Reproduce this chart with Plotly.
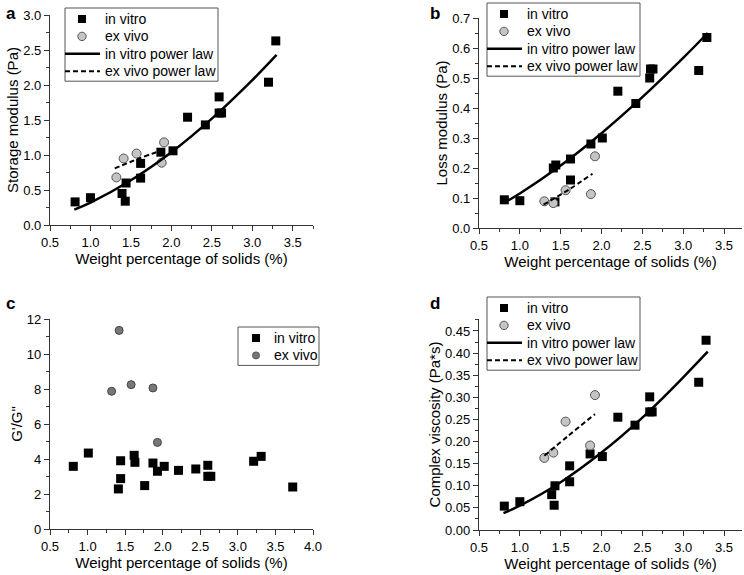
import plotly.graph_objects as go

FONT = "Arial, Liberation Sans, sans-serif"

# panel a: storage modulus (Pa)
a_vitro_x = [0.81, 1.00, 1.39, 1.43, 1.44, 1.62, 1.62, 1.87, 2.02, 2.20, 2.42, 2.59, 2.59, 2.62, 3.20, 3.29]
a_vitro_y = [0.33, 0.39, 0.45, 0.34, 0.60, 0.88, 0.67, 1.04, 1.06, 1.54, 1.43, 1.83, 1.60, 1.60, 2.04, 2.63]
a_vivo_x = [1.32, 1.41, 1.57, 1.88, 1.91]
a_vivo_y = [0.68, 0.95, 1.02, 0.89, 1.18]
a_fit_vitro_x = [0.80, 1.00, 1.50, 2.00, 2.50, 3.00, 3.30]
a_fit_vitro_y = [0.22, 0.32, 0.64, 1.04, 1.52, 2.07, 2.43]
a_fit_vivo_x = [1.30, 1.60, 1.89]
a_fit_vivo_y = [0.81, 0.95, 1.07]

# panel b: loss modulus (Pa)
b_vitro_x = [0.81, 1.00, 1.41, 1.43, 1.44, 1.62, 1.62, 1.87, 2.01, 2.20, 2.42, 2.59, 2.60, 2.63, 3.19, 3.29]
b_vitro_y = [0.094, 0.091, 0.200, 0.087, 0.210, 0.230, 0.160, 0.280, 0.300, 0.456, 0.415, 0.500, 0.530, 0.530, 0.525, 0.635]
b_vivo_x = [1.30, 1.41, 1.56, 1.87, 1.92]
b_vivo_y = [0.089, 0.083, 0.126, 0.113, 0.239]
b_fit_vitro_x = [0.80, 1.00, 1.50, 2.00, 2.50, 3.00, 3.30]
b_fit_vitro_y = [0.083, 0.115, 0.208, 0.316, 0.436, 0.567, 0.650]
b_fit_vivo_x = [1.29, 1.60, 1.89]
b_fit_vivo_y = [0.078, 0.128, 0.181]

# panel c: G'/G"
c_vitro_x = [0.81, 1.01, 1.41, 1.44, 1.44, 1.62, 1.63, 1.76, 1.87, 1.93, 2.02, 2.21, 2.44, 2.60, 2.60, 2.64, 3.21, 3.31, 3.73]
c_vitro_y = [3.58, 4.34, 2.29, 3.90, 2.88, 4.21, 3.81, 2.48, 3.77, 3.30, 3.58, 3.35, 3.43, 3.64, 3.01, 3.01, 3.87, 4.15, 2.40]
c_vivo_x = [1.32, 1.42, 1.58, 1.87, 1.93]
c_vivo_y = [7.87, 11.35, 8.25, 8.06, 4.95]

# panel d: complex viscosity (Pa*s)
d_vitro_x = [0.81, 1.00, 1.39, 1.42, 1.43, 1.61, 1.61, 1.86, 2.01, 2.20, 2.41, 2.59, 2.59, 2.62, 3.19, 3.28]
d_vitro_y = [0.054, 0.064, 0.080, 0.056, 0.100, 0.145, 0.109, 0.172, 0.166, 0.255, 0.237, 0.301, 0.267, 0.267, 0.334, 0.429]
d_vivo_x = [1.30, 1.41, 1.56, 1.86, 1.92]
d_vivo_y = [0.163, 0.175, 0.245, 0.191, 0.305]
d_fit_vitro_x = [0.80, 1.00, 1.50, 2.00, 2.50, 3.00, 3.30]
d_fit_vitro_y = [0.038, 0.055, 0.108, 0.175, 0.254, 0.345, 0.403]
d_fit_vivo_x = [1.30, 1.60, 1.92]
d_fit_vivo_y = [0.168, 0.214, 0.262]

legend_full = ["in vitro", "ex vivo", "in vitro power law", "ex vivo power law"]
legend_short = ["in vitro", "ex vivo"]

W, H = 744, 575
VIVO_LIGHT = "#c4c4c4"
VIVO_DARK = "#777777"


def px_x(a, b):
    return [a / W, b / W]


def px_y(bottom, top):
    return [(H - bottom) / H, (H - top) / H]


fig = go.Figure()


def add_panel(n, vx, vy, ex, ey, fits, vivo_color, vivo_line, vivo_size):
    xa = "x" if n == 1 else f"x{n}"
    ya = "y" if n == 1 else f"y{n}"
    fig.add_trace(go.Scatter(
        x=vx, y=vy, mode="markers", name="in vitro", xaxis=xa, yaxis=ya,
        marker=dict(symbol="square", size=9, color="black"), cliponaxis=False))
    fig.add_trace(go.Scatter(
        x=ex, y=ey, mode="markers", name="ex vivo", xaxis=xa, yaxis=ya,
        marker=dict(symbol="circle", size=vivo_size, color=vivo_color,
                    line=dict(color=vivo_line, width=1)), cliponaxis=False))
    if fits:
        fx, fy, gx, gy = fits
        fig.add_trace(go.Scatter(
            x=fx, y=fy, mode="lines", name="in vitro power law", xaxis=xa, yaxis=ya,
            line=dict(color="black", width=2.5, shape="spline")))
        fig.add_trace(go.Scatter(
            x=gx, y=gy, mode="lines", name="ex vivo power law", xaxis=xa, yaxis=ya,
            line=dict(color="black", width=2, dash="5px,3px", shape="spline")))


add_panel(1, a_vitro_x, a_vitro_y, a_vivo_x, a_vivo_y,
          (a_fit_vitro_x, a_fit_vitro_y, a_fit_vivo_x, a_fit_vivo_y), VIVO_LIGHT, "#555", 9)
add_panel(2, b_vitro_x, b_vitro_y, b_vivo_x, b_vivo_y,
          (b_fit_vitro_x, b_fit_vitro_y, b_fit_vivo_x, b_fit_vivo_y), VIVO_LIGHT, "#555", 9)
add_panel(3, c_vitro_x, c_vitro_y, c_vivo_x, c_vivo_y, None, VIVO_DARK, "#444", 8)
add_panel(4, d_vitro_x, d_vitro_y, d_vivo_x, d_vivo_y,
          (d_fit_vitro_x, d_fit_vitro_y, d_fit_vivo_x, d_fit_vivo_y), VIVO_LIGHT, "#555", 9)


# Origin-style legend boxes, tighter than plotly's own legend rows
def draw_legend(left, top, right, labels, vivo_color, text_dx=38, mark_dx=17, step=17.4):
    X = lambda v: v / W
    Y = lambda v: (H - v) / H
    bottom = top + 11 + step * (len(labels) - 1) + 10
    fig.add_shape(type="rect", xref="paper", yref="paper", x0=X(left), x1=X(right),
                  y0=Y(bottom), y1=Y(top), fillcolor="white", line=dict(color="#555", width=1))
    for i, label in enumerate(labels):
        cy = top + 11 + step * i
        cx = left + mark_dx
        if i == 0:
            fig.add_shape(type="rect", xref="paper", yref="paper", x0=X(cx - 4), x1=X(cx + 4),
                          y0=Y(cy + 4), y1=Y(cy - 4), fillcolor="black", line=dict(width=0))
        elif i == 1:
            r = 4.2 if vivo_color == VIVO_LIGHT else 3.5
            fig.add_shape(type="circle", xref="paper", yref="paper", x0=X(cx - r), x1=X(cx + r),
                          y0=Y(cy + r), y1=Y(cy - r), fillcolor=vivo_color,
                          line=dict(color="#555", width=1))
        else:
            fig.add_shape(type="line", xref="paper", yref="paper", x0=X(left), x1=X(left + text_dx - 3),
                          y0=Y(cy), y1=Y(cy),
                          line=dict(color="black", width=2.5 if i == 2 else 2,
                                    dash="solid" if i == 2 else "5px,3px"))
        fig.add_annotation(text=label, x=X(left + text_dx), y=Y(cy), xref="paper", yref="paper",
                           xanchor="left", yanchor="middle", showarrow=False,
                           font=dict(size=14, color="black", family=FONT))


draw_legend(65, 8, 218, legend_full, VIVO_LIGHT)
draw_legend(487, 3, 640, legend_full, VIVO_LIGHT)
draw_legend(238, 327, 319, legend_short, VIVO_DARK, text_dx=34, mark_dx=18)
draw_legend(487, 297, 640, legend_full, VIVO_LIGHT)


def xaxis(domain, rng, anchor):
    return dict(domain=domain, range=rng, anchor=anchor, showline=True, linecolor="#333",
                linewidth=1.2, ticks="outside", ticklen=5, tickwidth=1.2, tickcolor="#333",
                tick0=0.5, dtick=0.5, tickformat=".1f", showgrid=False, zeroline=False,
                automargin=False,
                minor=dict(ticks="outside", ticklen=3, tickcolor="#333", tick0=0.5, dtick=0.25),
                tickfont=dict(size=13, color="black"),
                title=dict(text="Weight percentage of solids (%)", font=dict(size=15, color="black"),
                           standoff=4))


def yaxis(domain, rng, anchor, title, dtick, minor, fmt):
    return dict(domain=domain, range=rng, anchor=anchor, showline=True, linecolor="#333",
                linewidth=1.2, ticks="outside", ticklen=5, tickwidth=1.2, tickcolor="#333",
                tick0=0, dtick=dtick, tickformat=fmt, showgrid=False, zeroline=False,
                automargin=False,
                minor=dict(ticks="outside", ticklen=3, tickcolor="#333", tick0=0, dtick=minor),
                tickfont=dict(size=13, color="black"),
                title=dict(text=title, font=dict(size=15, color="black"), standoff=0))


fig.update_layout(
    width=W, height=H, margin=dict(l=0, r=0, t=0, b=0, autoexpand=False),
    paper_bgcolor="white", plot_bgcolor="white", showlegend=False,
    font=dict(family=FONT, color="black"),
    xaxis=xaxis(px_x(50, 313), [0.5, 3.75], "y"),
    yaxis=yaxis(px_y(225, 15), [0, 3.0], "x", "Storage modulus (Pa)", 0.5, 0.25, ".1f"),
    xaxis2=xaxis(px_x(479, 742), [0.5, 3.72], "y2"),
    yaxis2=yaxis(px_y(228, 18), [0, 0.7], "x2", "Loss modulus (Pa)", 0.1, 0.05, ".1f"),
    xaxis3=xaxis(px_x(50, 313), [0.5, 4.0], "y3"),
    yaxis3=yaxis(px_y(529, 319), [0, 12], "x3", "G'/G\"", 2, 1, "d"),
    xaxis4=xaxis(px_x(479, 742), [0.5, 3.72], "y4"),
    yaxis4=yaxis(px_y(530, 319), [0, 0.477], "x4", "Complex viscosity (Pa*s)", 0.05, 0.025, ".2f"),
)

for label, x, y in [("a", 4, 2), ("b", 428, 2), ("c", 4, 292), ("d", 428, 292)]:
    fig.add_annotation(text=f"<b>{label}</b>", x=x / W, y=(H - y) / H, xref="paper", yref="paper",
                       xanchor="left", yanchor="top", showarrow=False,
                       font=dict(size=17, color="black", family=FONT))

# the page body has a default 8px margin; drop it so the figure sits at the corner
fig.write_html("out.html", config={"displayModeBar": False},
               post_script="document.body.style.margin='0';")
